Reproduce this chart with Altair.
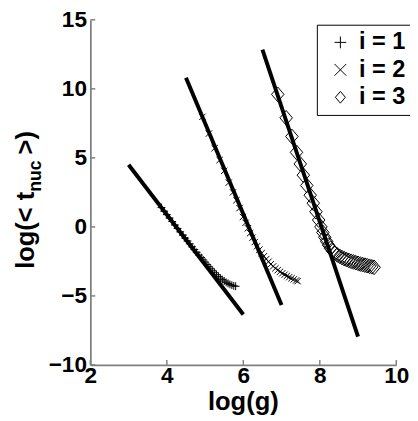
import altair as alt
import pandas as pd

# ---------------- data ----------------
series_names = ["i = 1", "i = 2", "i = 3"]

s1_x = [3.86, 3.93, 4.00, 4.07, 4.14, 4.21, 4.28, 4.35, 4.42, 4.48, 4.54, 4.60,
        4.66, 4.72, 4.78, 4.84, 4.90, 4.95, 5.00, 5.05, 5.10, 5.15, 5.20, 5.25,
        5.30, 5.35, 5.40, 5.45, 5.50, 5.55, 5.60, 5.65, 5.70, 5.75, 5.80]
s1_y = [1.40, 1.14, 0.89, 0.64, 0.39, 0.14, -0.11, -0.36, -0.60, -0.81, -1.02, -1.23,
        -1.44, -1.64, -1.84, -2.04, -2.22, -2.39, -2.55, -2.72, -2.88, -3.03, -3.18, -3.32,
        -3.46, -3.59, -3.71, -3.82, -3.92, -4.01, -4.09, -4.16, -4.22, -4.27, -4.30]

s2_x = [4.93, 5.10, 5.25, 5.38, 5.50, 5.62, 5.73, 5.82, 5.90, 5.99, 6.06, 6.12,
        6.18, 6.24, 6.30, 6.36, 6.42, 6.48, 6.54, 6.60, 6.66, 6.72, 6.78, 6.84,
        6.90, 6.96, 7.02, 7.08, 7.14, 7.20, 7.26, 7.32, 7.38, 7.42]
s2_y = [7.97, 6.76, 5.70, 4.84, 4.06, 3.21, 2.50, 1.93, 1.36, 0.72, 0.30, -0.10,
        -0.45, -0.78, -1.10, -1.40, -1.65, -1.90, -2.12, -2.33, -2.52, -2.70, -2.86, -3.00,
        -3.13, -3.25, -3.36, -3.46, -3.55, -3.64, -3.72, -3.80, -3.88, -3.93]

s3_x = [6.90, 7.12, 7.27, 7.39, 7.49, 7.57, 7.66, 7.75, 7.83, 7.90, 7.97, 8.03,
        8.08, 8.13, 8.18, 8.23, 8.28, 8.34, 8.40, 8.46, 8.52, 8.58, 8.64, 8.70,
        8.76, 8.82, 8.88, 8.94, 9.00, 9.06, 9.12, 9.18, 9.24, 9.30, 9.36, 9.42]
s3_y = [9.60, 7.90, 6.55, 5.40, 4.56, 3.75, 3.00, 2.30, 1.72, 1.10, 0.50, 0.00,
        -0.40, -0.75, -1.05, -1.32, -1.55, -1.75, -1.90, -2.03, -2.13, -2.22, -2.30, -2.37,
        -2.43, -2.49, -2.54, -2.59, -2.64, -2.69, -2.73, -2.77, -2.81, -2.85, -2.89, -2.93]

fit1_x = [3.0, 6.0]
fit1_y = [4.5, -6.35]
fit2_x = [4.5, 7.0]
fit2_y = [10.8, -5.65]
fit3_x = [6.5, 9.0]
fit3_y = [12.85, -7.95]

x_ticks = [2, 4, 6, 8, 10]
y_ticks = [-10, -5, 0, 5, 10, 15]

x_title = "log(g)"
y_title_parts = ["log(<\u00a0t", "nuc", ">)"]

# ---------------- tables ----------------
def series_df(xv, yv, name):
    return pd.DataFrame({"x": xv, "y": yv, "series": [name] * len(xv)})

d1 = series_df(s1_x, s1_y, series_names[0])
d2 = series_df(s2_x, s2_y, series_names[1])
d3 = series_df(s3_x, s3_y, series_names[2])

fits = pd.DataFrame({
    "x": fit1_x + fit2_x + fit3_x,
    "y": fit1_y + fit2_y + fit3_y,
    "fit": ["a", "a", "b", "b", "c", "c"],
})
xt = pd.DataFrame({"x": x_ticks})
yt = pd.DataFrame({"y": y_ticks})

FONT = "Liberation Sans"
W, H = 312, 352

xs = alt.Scale(domain=[2, 10], nice=False, zero=False)
ys = alt.Scale(domain=[-10, 15], nice=False, zero=False)
X = alt.X("x:Q", scale=xs, axis=alt.Axis(values=x_ticks, title=None))
Y = alt.Y("y:Q", scale=ys, axis=alt.Axis(values=y_ticks, title=None))

PLUS = "M-1,0L1,0M0,-1L0,1"
XMARK = "M-1,-1L1,1M-1,1L1,-1"
DIAM = "M0,-1L0.85,0L0,1L-0.85,0Z"

SHAPE = alt.Shape(
    "series:N",
    scale=alt.Scale(domain=series_names, range=[PLUS, XMARK, DIAM]),
    legend=alt.Legend(
        title=None, orient="none", legendX=231, legendY=5,
        labelFont=FONT, labelFontSize=24, labelFontWeight="bold", labelColor="black",
        symbolSize=144, symbolStrokeColor="black", symbolStrokeWidth=1,
        symbolFillColor="transparent", rowPadding=4,
        strokeColor="black", fillColor="white", padding=6,
        labelOffset=7, symbolOffset=6),
)

def pts_layer(df, size):
    return alt.Chart(df).mark_point(filled=False, color="black", strokeWidth=1,
                                    opacity=1, size=size).encode(x=X, y=Y, shape=SHAPE)

p1 = pts_layer(d1, 64)
p2 = pts_layer(d2, 42)
p3 = pts_layer(d3, 225)

lines = alt.Chart(fits).mark_line(color="black", strokeWidth=4, strokeCap="butt").encode(
    x=X, y=Y, detail="fit:N")

xtick = alt.Chart(xt).mark_rule(color="#808080", strokeWidth=1.5).encode(
    x=X, y=alt.value(H), y2=alt.value(H - 5))
ytick = alt.Chart(yt).mark_rule(color="#808080", strokeWidth=1.5).encode(
    y=Y, x=alt.value(0), x2=alt.value(5))

# y title with subscript (Liberation Sans Bold advance widths per 1000 em)
CW = {"l": 278, "o": 611, "g": 611, "(": 333, "<": 584, " ": 278, "\u00a0": 278,
      "t": 333, "n": 611, "u": 611, "c": 556, ">": 584, ")": 333}
def tw(s, size):
    return sum(CW.get(ch, 556) for ch in s) * size / 1000.0

MAIN, SUB = 26, 18
GAP = 6
ybase = 254
w1 = tw(y_title_parts[0], MAIN)
w2 = tw(y_title_parts[1], SUB)
yt_layers = []
for txt, size, ypos, xpos in [
    (y_title_parts[0], MAIN, ybase, -57),
    (y_title_parts[1], SUB, ybase - w1, -50),
    (y_title_parts[2], MAIN, ybase - w1 - w2 - GAP, -57),
]:
    yt_layers.append(
        alt.Chart(pd.DataFrame({"t": [txt]})).mark_text(
            font=FONT, fontSize=size, fontWeight="bold", color="black",
            angle=270, align="left", baseline="alphabetic").encode(
            text="t:N", x=alt.value(xpos), y=alt.value(ypos)))

xtitle = alt.Chart(pd.DataFrame({"t": [x_title]})).mark_text(
    font=FONT, fontSize=26, fontWeight="bold", color="black",
    align="center", baseline="alphabetic").encode(
    text="t:N", x=alt.value(W / 2), y=alt.value(H + 46))

chart = alt.layer(p1, p2, p3, lines, xtick, ytick, xtitle, *yt_layers).properties(
    width=W, height=H,
    autosize=alt.AutoSizeParams(type="none"),
    padding={"left": 84, "top": 8, "right": 14, "bottom": 48},
).configure_view(stroke=None).configure_axis(
    domainColor="#808080", domainWidth=1.8, ticks=False, grid=False,
    labelFont=FONT, labelFontSize=23, labelFontWeight="bold", labelColor="black",
    labelOverlap=False,
).configure_axisX(labelPadding=0, labelFlush=False).configure_axisY(labelPadding=4)

chart.save("out.html", embed_options={"renderer": "svg", "actions": False})
